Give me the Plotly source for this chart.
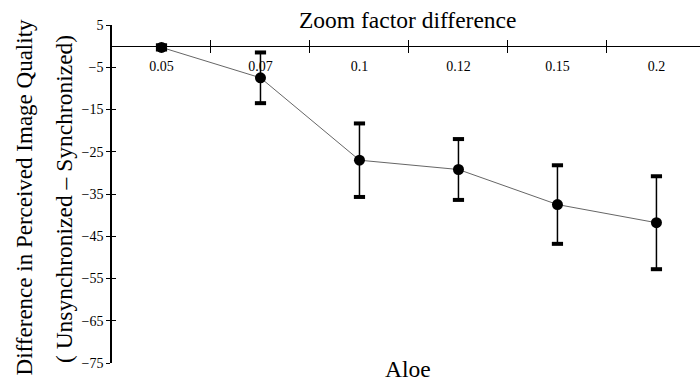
import plotly.graph_objects as go

# Zoom factor difference categories and mean quality differences
zoom_factors = ["0.05", "0.07", "0.1", "0.12", "0.15", "0.2"]
mean_diff = [-0.3, -7.5, -27.0, -29.2, -37.5, -41.8]
err_diff = [0.5, 6.0, 8.7, 7.2, 9.3, 11.0]
y_ticks = [5, -5, -15, -25, -35, -45, -55, -65, -75]

idx = list(range(len(zoom_factors)))
boundaries = [i + 0.5 for i in idx[:-1]]
upper = [m + e for m, e in zip(mean_diff, err_diff)]
lower = [m - e for m, e in zip(mean_diff, err_diff)]

SERIF = "Liberation Serif, Times New Roman, serif"
Y0_POS = (0 - (-75)) / (5 - (-75))  # where y = 0 sits inside the plot area

fig = go.Figure()

# mean curve with error bars
fig.add_trace(go.Scatter(
    x=idx, y=mean_diff, mode="lines+markers",
    line=dict(color="#666666", width=1),
    marker=dict(color="black", size=11, symbol="circle"),
    error_y=dict(type="data", array=err_diff, color="black", thickness=1.5, width=0),
    showlegend=False, hoverinfo="skip",
))

# thick end caps of the error bars
fig.add_trace(go.Scatter(
    x=idx + idx, y=upper + lower, mode="markers",
    marker=dict(symbol="line-ew", size=8, line=dict(color="black", width=4)),
    showlegend=False, hoverinfo="skip",
))

# invisible trace so the overlaid tick axes are drawn
fig.add_trace(go.Scatter(
    x=[0], y=[0], xaxis="x2", yaxis="y2", mode="markers",
    marker=dict(opacity=0), showlegend=False, hoverinfo="skip",
))

fig.update_layout(
    width=700, height=383,
    margin=dict(l=112, r=0, t=25, b=20),
    paper_bgcolor="white", plot_bgcolor="white",
    font=dict(family=SERIF, color="black"),
    xaxis=dict(
        range=[-0.5, 5.44], anchor="free", position=Y0_POS,
        tickvals=idx, ticktext=zoom_factors, ticks="",
        tickfont=dict(size=14, family=SERIF), ticklabelstandoff=7,
        showline=True, linecolor="black", linewidth=1,
        showgrid=False, zeroline=False,
        minor=dict(tickvals=boundaries, ticks="outside", ticklen=6,
                   tickcolor="black", tickwidth=1, showgrid=False),
    ),
    xaxis2=dict(
        range=[-0.5, 5.44], overlaying="x", anchor="free", position=Y0_POS,
        tickvals=boundaries, ticks="inside", ticklen=6, tickcolor="black",
        showticklabels=False, showline=False, showgrid=False, zeroline=False,
    ),
    yaxis=dict(
        range=[-75, 5], tickvals=y_ticks, ticks="outside", ticklen=4,
        tickcolor="black", tickfont=dict(size=14, family=SERIF),
        showline=True, linecolor="black", linewidth=1.5,
        showgrid=False, zeroline=False,
    ),
    yaxis2=dict(
        range=[-75, 5], overlaying="y", anchor="x", tickvals=y_ticks,
        ticks="inside", ticklen=4, tickcolor="black",
        showticklabels=False, showline=False, showgrid=False, zeroline=False,
    ),
)

fig.add_annotation(text="Zoom factor difference", xref="x", yref="paper",
                   x=2.49, y=1, yshift=5, yanchor="middle", showarrow=False,
                   font=dict(size=23.5, family=SERIF))
fig.add_annotation(text="Aloe", xref="x", yref="paper",
                   x=2.49, y=0, yshift=-21, yanchor="bottom", showarrow=False,
                   font=dict(size=23.5, family=SERIF))
fig.add_annotation(text="Difference in Perceived Image Quality", xref="paper",
                   yref="paper", x=0, xshift=-88, xanchor="center",
                   y=0.49, yanchor="middle", textangle=-90,
                   showarrow=False, font=dict(size=23, family=SERIF))
fig.add_annotation(text="( Unsynchronized \u2013 Synchronized)", xref="paper",
                   yref="paper", x=0, xshift=-48, xanchor="center",
                   y=0.485, yanchor="middle", textangle=-90,
                   showarrow=False, font=dict(size=23.5, family=SERIF))

fig.write_html("out.html")
